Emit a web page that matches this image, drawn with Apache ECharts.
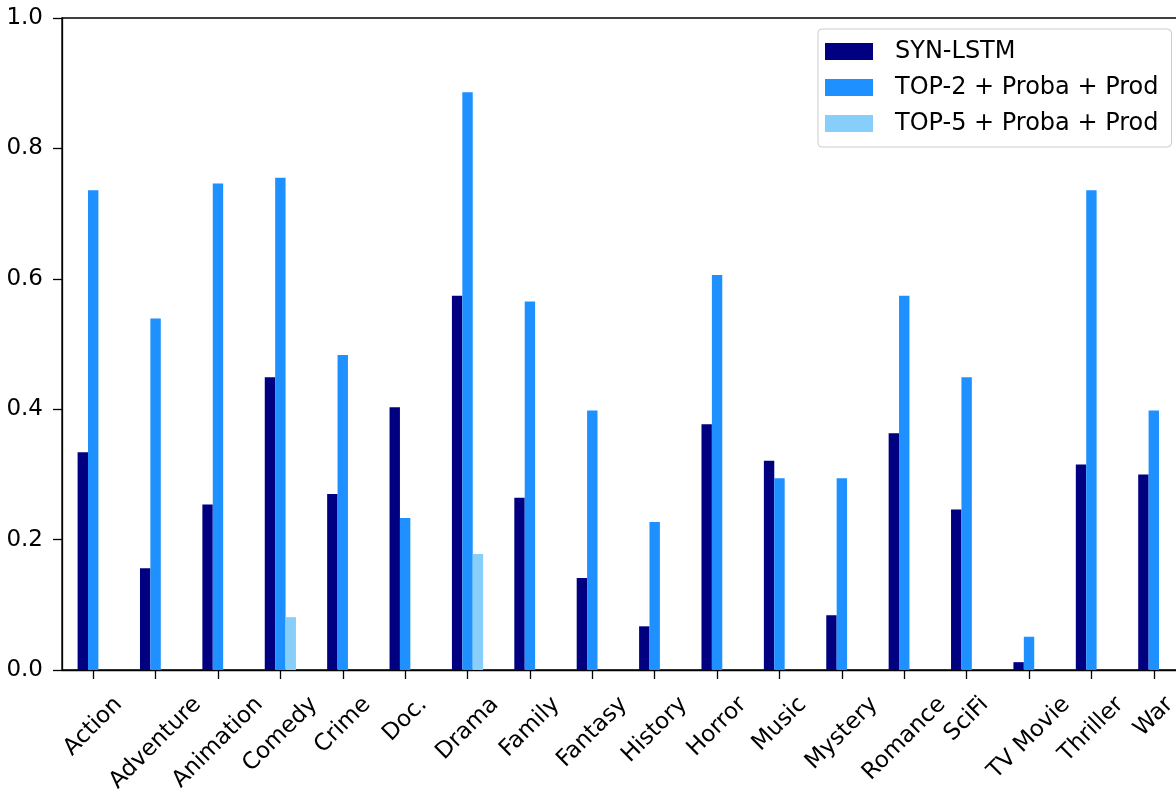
<!DOCTYPE html>
<html>
<head>
<meta charset="utf-8">
<script src="https://cdn.jsdelivr.net/npm/echarts@6/dist/echarts.min.js"></script>
<style>
html,body{margin:0;padding:0;background:#fff;}
#chart{width:1176px;height:789px;}
</style>
</head>
<body>
<div id="chart"></div>
<script>
const categories = ['Action','Adventure','Animation','Comedy','Crime','Doc.','Drama','Family','Fantasy','History','Horror','Music','Mystery','Romance','SciFi','TV Movie','Thriller','War'];
const seriesNames = ['SYN-LSTM','TOP-2 + Proba + Prod','TOP-5 + Proba + Prod'];
const synLstm = [0.334, 0.156, 0.254, 0.449, 0.270, 0.403, 0.574, 0.264, 0.141, 0.067, 0.377, 0.321, 0.084, 0.363, 0.246, 0.012, 0.315, 0.300];
const top2    = [0.736, 0.539, 0.746, 0.755, 0.483, 0.233, 0.886, 0.565, 0.398, 0.227, 0.606, 0.294, 0.294, 0.574, 0.449, 0.051, 0.736, 0.398];
const top5    = [0, 0, 0, 0.081, 0, 0, 0.178, 0, 0, 0, 0, 0, 0, 0, 0, 0, 0, 0];
const yTicks  = ['0.0','0.2','0.4','0.6','0.8','1.0'];

const FONT = 'DejaVu Sans';
const FS = 23;
const colors = ['#000080', '#1E90FF', '#87CEFA'];

// measure label widths to emulate centred rotated labels
const cv = document.createElement('canvas').getContext('2d');
cv.font = FS + 'px "' + FONT + '"';
const rich = {};
categories.forEach((c, i) => {
  const w = cv.measureText(c).width;
  rich['l' + i] = {
    fontFamily: FONT, fontSize: FS, color: '#000',
    padding: [w / 2, w / 2, 0, 0]
  };
});

const chart = echarts.init(document.getElementById('chart'));
const option = {
  animation: false,
  backgroundColor: '#fff',
  grid: {
    left: 62, top: 18, width: 1123, height: 652,
    outerBoundsMode: 'none',
    show: true, borderColor: '#000', borderWidth: 1.3, containLabel: false
  },
  legend: {
    orient: 'vertical',
    left: 818, top: 29,
    padding: [10.5, 13, 11.5, 7],
    itemWidth: 48, itemHeight: 17, itemGap: 12,
    icon: 'rect',
    backgroundColor: 'rgba(255,255,255,0.85)',
    borderColor: '#cccccc', borderWidth: 1, borderRadius: 4,
    textStyle: { fontFamily: FONT, fontSize: 24, color: '#000', padding: [0, 0, 0, 17] },
    data: seriesNames
  },
  xAxis: {
    type: 'category',
    data: categories,
    boundaryGap: true,
    axisLine: { show: true, lineStyle: { color: '#000', width: 1.3 } },
    axisTick: { show: true, alignWithLabel: true, length: 9, lineStyle: { color: '#000', width: 1.3 } },
    axisLabel: {
      interval: 0,
      rotate: 45,
      align: 'center',
      verticalAlign: 'middle',
      margin: 31,
      fontFamily: FONT, fontSize: FS, color: '#000',
      formatter: (v) => '{l' + categories.indexOf(v) + '|' + v + '}',
      rich: rich
    },
    splitLine: { show: false }
  },
  yAxis: {
    type: 'value',
    min: 0, max: 1, interval: 0.2,
    axisLine: { show: true, lineStyle: { color: '#000', width: 1.3 } },
    axisTick: { show: true, length: 9, lineStyle: { color: '#000', width: 1.3 } },
    axisLabel: {
      margin: 19,
      fontFamily: FONT, fontSize: FS, color: '#000',
      formatter: (v) => yTicks[Math.round(v / 0.2)]
    },
    splitLine: { show: false }
  },
  series: [
    { name: seriesNames[0], type: 'bar', data: synLstm, barWidth: 10.4, barGap: '0%', itemStyle: { color: colors[0] } },
    { name: seriesNames[1], type: 'bar', data: top2, barWidth: 10.4, barGap: '0%', itemStyle: { color: colors[1] } },
    { name: seriesNames[2], type: 'bar', data: top5, barWidth: 10.4, barGap: '0%', itemStyle: { color: colors[2] } }
  ]
};
chart.setOption(option);
</script>
</body>
</html>
